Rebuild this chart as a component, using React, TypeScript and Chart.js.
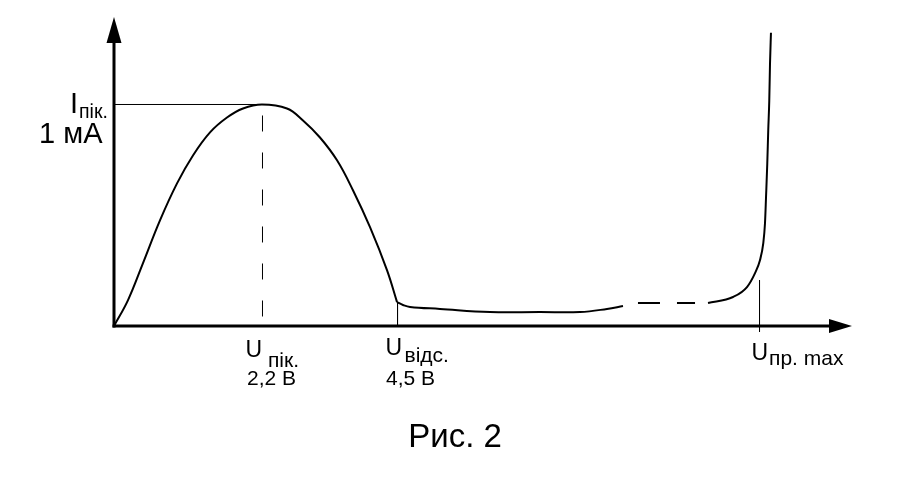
import React, { useEffect, useRef } from "react";
import { Chart, registerables } from "chart.js";

Chart.register(...registerables);

// Abstract voltage axis (0..100, not to scale) and current in mA (peak = 1 mA)
const mainX = [0, 1.9, 3.93, 6.23, 8.54, 10.7, 13.01, 15.31, 17.48, 20.05, 23.44, 25.61, 27.91, 30.22, 32.38, 34.69, 36.99, 38.35];
const mainY = [0, 0.117, 0.284, 0.477, 0.644, 0.77, 0.874, 0.941, 0.982, 1.0, 0.982, 0.928, 0.851, 0.748, 0.613, 0.446, 0.252, 0.108];

const valleyX = [38.35, 39.16, 40.11, 44.17, 50.95, 57.72, 63.14, 66.8, 68.97];
const valleyY = [0.108, 0.095, 0.086, 0.077, 0.063, 0.063, 0.063, 0.077, 0.09];

const gapX = [71.0, 78.73];
const gapY = [0.104, 0.104];

const breakX = [80.49, 83.88, 85.77, 86.86, 87.53, 87.98, 88.21, 88.35, 88.52, 88.65, 88.79, 88.89, 89.02];
const breakY = [0.104, 0.131, 0.176, 0.239, 0.297, 0.374, 0.464, 0.581, 0.734, 0.883, 1.018, 1.185, 1.324];

const peakX = 20.12;
const peakI = 1.0;
const cutoffX = 38.42;
const cutoffI = 0.108;
const maxX = 87.47;
const maxTickTop = 0.207;
const maxTickBottom = -0.027;

const xTickPositions = [peakX, cutoffX, maxX];
const xTickMain = ["U", "U", "U"];
const xTickSub = ["пік.", "відс.", "пр. max"];
const xTickValue = ["2,2 В", "4,5 В", ""];
const yLabelMain = "I";
const yLabelSub = "пік.";
const yLabelValue = "1 мА";
const caption = "Рис. 2";

const FONT = "'Liberation Sans', Arial, sans-serif";

const zip = (xs: number[], ys: number[]) => xs.map((x, i) => ({ x, y: ys[i] }));

// per-label fine placement (pixel offsets relative to tick)
const xLabelLayout = [
  { u: -17, uy: 31, s: 5.5, sy: 41, v: -15.5, vy: 59 },
  { u: -12, uy: 29, s: 7, sy: 36, v: -11.5, vy: 59 },
  { u: -8, uy: 34, s: 9.5, sy: 39, v: 0, vy: 0 },
];

const diagramPlugin = {
  id: "diagram",
  afterDraw(chart: any) {
    const ctx = chart.ctx as CanvasRenderingContext2D;
    const xs = chart.scales.x;
    const ys = chart.scales.y;
    const x0 = xs.getPixelForValue(0);
    const y0 = ys.getPixelForValue(0);
    const xTip = xs.getPixelForValue(xs.max);
    const yTip = ys.getPixelForValue(ys.max);
    ctx.save();
    ctx.strokeStyle = "#000";
    ctx.fillStyle = "#000";
    ctx.lineWidth = 3;
    // y axis
    ctx.beginPath();
    ctx.moveTo(x0, y0 + 1.5);
    ctx.lineTo(x0, yTip + 20);
    ctx.stroke();
    ctx.beginPath();
    ctx.moveTo(x0, yTip);
    ctx.lineTo(x0 - 7.5, yTip + 26);
    ctx.lineTo(x0 + 7.5, yTip + 26);
    ctx.closePath();
    ctx.fill();
    // x axis
    ctx.beginPath();
    ctx.moveTo(x0 - 1.5, y0);
    ctx.lineTo(xTip - 18, y0);
    ctx.stroke();
    ctx.beginPath();
    ctx.moveTo(xTip, y0);
    ctx.lineTo(xTip - 23, y0 - 7);
    ctx.lineTo(xTip - 23, y0 + 7);
    ctx.closePath();
    ctx.fill();

    // y labels
    const yp = ys.getPixelForValue(peakI);
    ctx.textBaseline = "alphabetic";
    ctx.textAlign = "left";
    ctx.font = `29px ${FONT}`;
    ctx.fillText(yLabelMain, x0 - 44, yp + 9);
    ctx.font = `19.5px ${FONT}`;
    ctx.fillText(yLabelSub, x0 - 35, yp + 14);
    ctx.textAlign = "right";
    ctx.font = `29px ${FONT}`;
    ctx.fillText(yLabelValue, x0 - 11.5, yp + 39);

    // x labels
    ctx.textAlign = "left";
    xTickPositions.forEach((v, i) => {
      const px = xs.getPixelForValue(v);
      const L = xLabelLayout[i];
      ctx.font = `23px ${FONT}`;
      ctx.fillText(xTickMain[i], px + L.u, y0 + L.uy);
      ctx.font = `21px ${FONT}`;
      ctx.fillText(xTickSub[i], px + L.s, y0 + L.sy);
      if (xTickValue[i]) {
        ctx.font = `21px ${FONT}`;
        ctx.fillText(xTickValue[i], px + L.v, y0 + L.vy);
      }
    });

    // caption
    ctx.textAlign = "center";
    ctx.font = `33px ${FONT}`;
    ctx.fillText(caption, 455, y0 + 121);
    ctx.restore();
  },
};

export default function App() {
  const ref = useRef<HTMLCanvasElement | null>(null);
  useEffect(() => {
    if (!ref.current) return;
    const common = { pointRadius: 0, borderColor: "#000", fill: false };
    const chart = new Chart(ref.current, {
      type: "line",
      data: {
        datasets: [
          { ...common, data: zip(mainX, mainY), borderWidth: 2, tension: 0.4 },
          { ...common, data: zip(valleyX, valleyY), borderWidth: 2, tension: 0.4 },
          { ...common, data: zip(gapX, gapY), borderWidth: 2, borderDash: [22, 17] },
          { ...common, data: zip(breakX, breakY), borderWidth: 2, cubicInterpolationMode: "monotone" },
          { ...common, data: [{ x: 0, y: peakI }, { x: peakX, y: peakI }], borderWidth: 1 },
          { ...common, data: [{ x: peakX, y: peakI }, { x: peakX, y: 0 }], borderWidth: 1, borderDash: [16, 21], borderDashOffset: 26 },
          { ...common, data: [{ x: cutoffX, y: cutoffI }, { x: cutoffX, y: 0 }], borderWidth: 1 },
          { ...common, data: [{ x: maxX, y: maxTickTop }, { x: maxX, y: maxTickBottom }], borderWidth: 1, clip: false },
        ] as any,
      },
      options: {
        animation: false,
        responsive: false,
        events: [],
        layout: { padding: { left: 114, right: 50, top: 17, bottom: 168 } },
        plugins: { legend: { display: false }, tooltip: { enabled: false } },
        scales: {
          x: { type: "linear", min: 0, max: 100, display: false },
          y: { type: "linear", min: 0, max: 1.395, display: false },
        },
      },
      plugins: [diagramPlugin],
    });
    return () => chart.destroy();
  }, []);
  return (
    <div style={{ position: "fixed", left: 0, top: 0, width: 902, height: 494, background: "#fff" }}>
      <canvas ref={ref} width={902} height={494} style={{ display: "block", width: 902, height: 494 }} />
    </div>
  );
}
